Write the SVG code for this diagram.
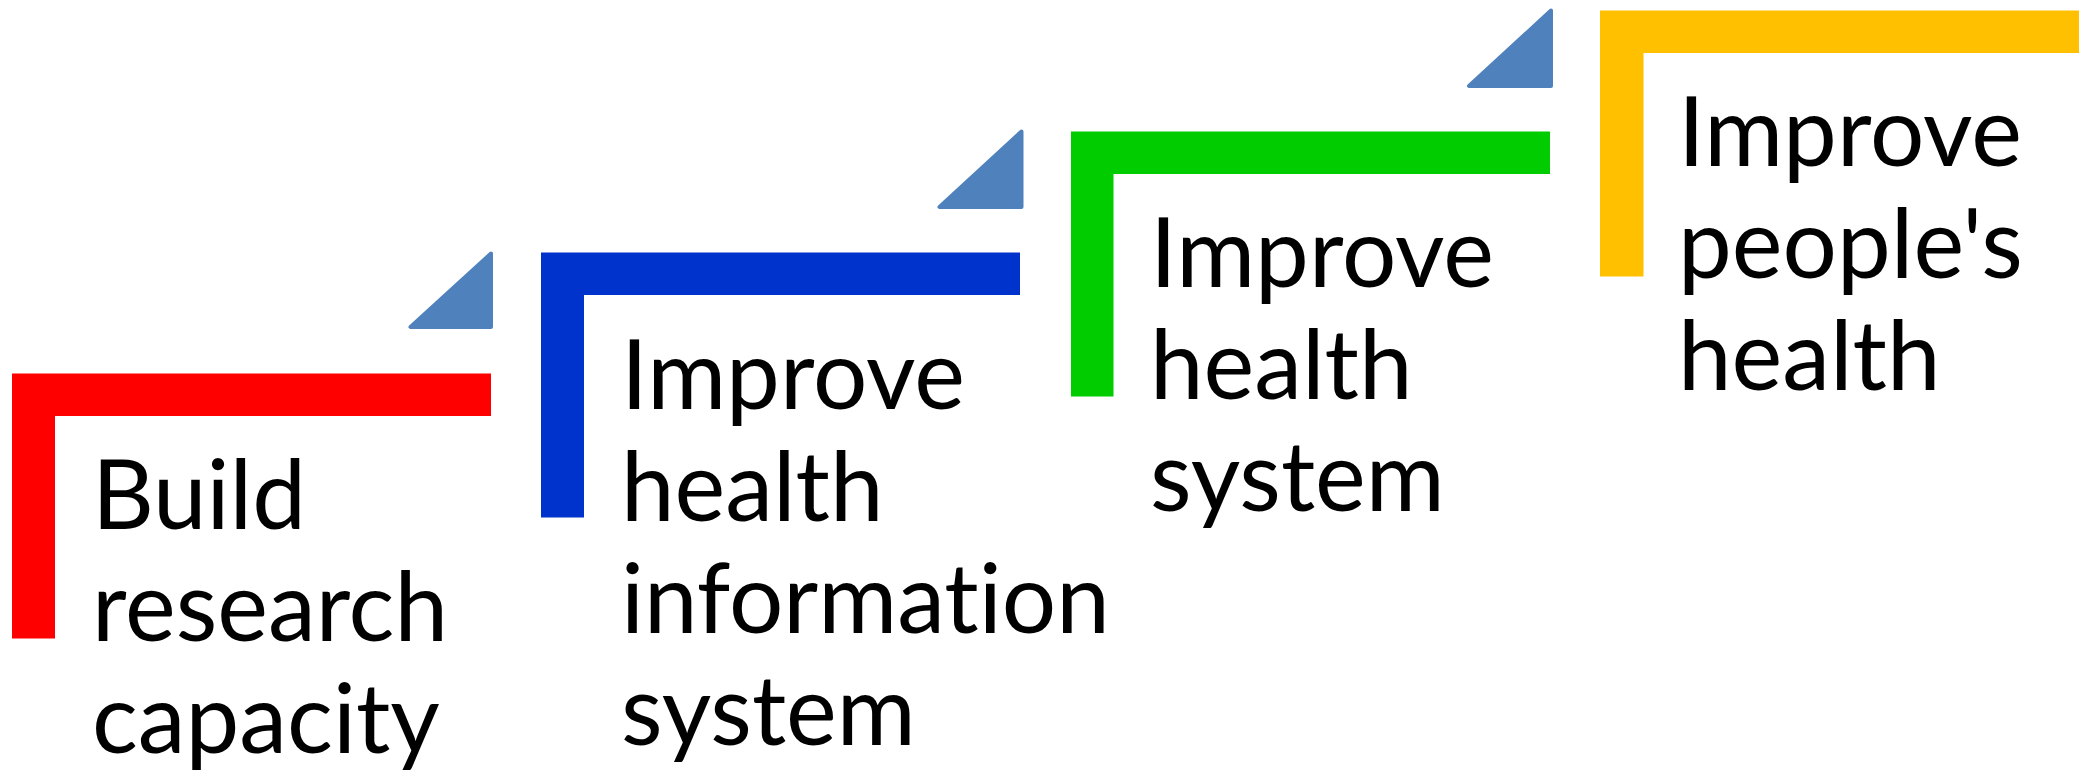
<svg xmlns="http://www.w3.org/2000/svg" width="2087" height="770" viewBox="0 0 2087 770">
  <style>
    .lbl { font-family: Lato, "Open Sans", "Liberation Sans", sans-serif; font-size: 96px; fill: #000000; font-variant-ligatures: none; font-feature-settings: "liga" 0, "clig" 0; }
    .tri { fill: #4F81BD; stroke: #4F81BD; stroke-width: 4; stroke-linejoin: round; }
    .red { fill: #FF0000; }
    .blue { fill: #0033CC; }
    .green { fill: #00CC00; }
    .yellow { fill: #FFC000; }
  </style>
  <rect width="2087" height="770" fill="#FFFFFF"/>
  <g id="step1">
    <path class="red" d="M12,373.5 H491 V416 H55 V638.5 H12 Z"/>
    <polygon class="tri" points="491,253.5 410.5,327 491,327"/>
    <text class="lbl" x="92" y="529"><tspan x="92">Build</tspan><tspan x="92" dy="111.5">research</tspan><tspan x="92" dy="112.5">capacity</tspan></text>
  </g>
  <g id="step2">
    <path class="blue" d="M541,252.5 H1020 V295 H584 V517.5 H541 Z"/>
    <polygon class="tri" points="1021.5,131.5 939.5,207 1021.5,207"/>
    <text class="lbl" x="621" y="409"><tspan x="621">Improve</tspan><tspan x="621" dy="112">health</tspan><tspan x="621" dy="112">information</tspan><tspan x="621" dy="112">system</tspan></text>
  </g>
  <g id="step3">
    <path class="green" d="M1071,131.5 H1550 V174 H1113.5 V396.5 H1071 Z"/>
    <polygon class="tri" points="1551,10.5 1469,86 1551,86"/>
    <text class="lbl" x="1150" y="287"><tspan x="1150">Improve</tspan><tspan x="1150" dy="112">health</tspan><tspan x="1150" dy="112">system</tspan></text>
  </g>
  <g id="step4">
    <path class="yellow" d="M1600,10.5 H2079 V53 H1643.5 V276.5 H1600 Z"/>
    <text class="lbl" x="1678" y="166"><tspan x="1678">Improve</tspan><tspan x="1678" dy="112">people's</tspan><tspan x="1678" dy="112">health</tspan></text>
  </g>
  <g id="connectors"/>
</svg>
